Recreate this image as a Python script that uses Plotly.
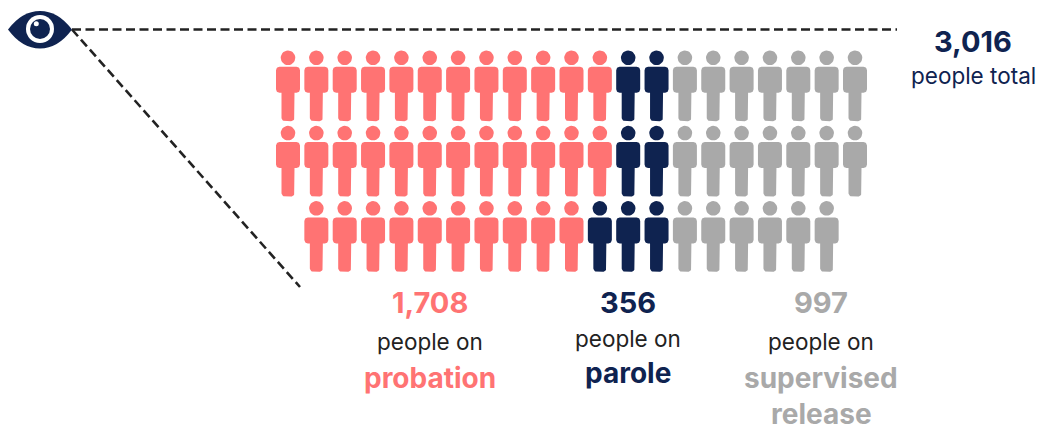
import math
import plotly.graph_objects as go

# Each icon stands for about 50 people; rows are filled left to right.
categories = ["probation", "parole", "supervised release"]
people = [1708, 356, 997]
total_people = 3016
icons_per_row = {
    "probation": [12, 12, 10],
    "parole": [2, 2, 3],
    "supervised release": [7, 7, 6],
}
row_offsets = [0, 0, 1]
colors = {"probation": "#FF7373", "parole": "#0F2350", "supervised release": "#A9A9A9"}
INK = "#222222"

# Icon grid, in axis units (the axes run 1:1 with the canvas)
COL0, COL_STEP = 288.0, 28.35
ROW0, ROW_STEP = 57.8, 75.3


def arc(cx, cy, r, a0, a1, n=7):
    return [(cx + r * math.cos(math.radians(a0 + (a1 - a0) * i / n)),
             cy + r * math.sin(math.radians(a0 + (a1 - a0) * i / n))) for i in range(n + 1)]


def person(cx, cy):
    """Outline points of one figure: round head, rounded torso, single leg block."""
    head = arc(cx, cy, 7.3, 0, 360, 28)
    top, torso_bot, leg_bot = cy + 9, cy + 35, cy + 63.4
    sw, lw, r, lr = 12.0, 6.5, 3.5, 3.5
    body = []
    body += arc(cx + sw - r, top + r, r, -90, 0)
    body += arc(cx + sw - r, torso_bot - r, r, 0, 90)
    body += [(cx + lw, torso_bot)]
    body += arc(cx + lw - lr, leg_bot - lr, lr, 0, 90)
    body += arc(cx - lw + lr, leg_bot - lr, lr, 90, 180)
    body += [(cx - lw, torso_bot)]
    body += arc(cx - sw + r, torso_bot - r, r, 90, 180)
    body += arc(cx - sw + r, top + r, r, 180, 270)
    body += [body[0]]
    return head, body


fig = go.Figure()

for row in range(3):
    col = row_offsets[row]
    for name in categories:
        xs, ys = [], []
        for _ in range(icons_per_row[name][row]):
            for part in person(COL0 + col * COL_STEP, ROW0 + row * ROW_STEP):
                xs += [p[0] for p in part] + [None]
                ys += [p[1] for p in part] + [None]
            col += 1
        fig.add_trace(go.Scatter(x=xs, y=ys, mode="lines", fill="toself",
                                 fillcolor=colors[name], line=dict(width=0),
                                 hoverinfo="skip", showlegend=False))

# Sight lines leaving the eye
for end in [(897, 29.5), (300, 287)]:
    fig.add_trace(go.Scatter(x=[72, end[0]], y=[29.5, end[1]], mode="lines",
                             line=dict(color=INK, width=2.6, dash="9px,4.5px"),
                             hoverinfo="skip", showlegend=False))

# Eye icon
navy = colors["parole"]
fig.add_shape(type="path", xref="x", yref="y", line_width=0, fillcolor=navy, layer="above",
              path="M 8 29.5 Q 22 11 40 11 Q 58 11 72 29.5 Q 58 48.5 40 48.5 Q 22 48.5 8 29.5 Z")
for r, col_ in [(14, "white"), (10, navy)]:
    fig.add_shape(type="circle", xref="x", yref="y", x0=40 - r, x1=40 + r, y0=29 - r, y1=29 + r,
                  line_width=0, fillcolor=col_, layer="above")
fig.add_shape(type="circle", xref="x", yref="y", x0=33.8, x1=38.8, y0=21.2, y1=26.2,
              line_width=0, fillcolor="white", layer="above")


def label(x, y, text, size, color, weight=400):
    fig.add_annotation(x=x, y=y, text=text, showarrow=False, xanchor="center", yanchor="middle",
                       font=dict(family="Inter, Roboto, sans-serif", size=size, color=color, weight=weight))


NUMBER = 29
WORD = 28
BODY = 22.5

label(973, 41, f"{total_people:,}", NUMBER, navy, 700)
label(973, 75, "people total", BODY, navy)

label(430, 302, f"{people[0]:,}", NUMBER, colors["probation"], 700)
label(430, 341, "people on", BODY, INK)
label(430, 378, "probation", WORD, colors["probation"], 700)

label(628, 302, f"{people[1]:,}", NUMBER, navy, 700)
label(628, 338, "people on", BODY, INK)
label(628, 373, "parole", WORD, navy, 700)

label(821, 302, f"{people[2]:,}", NUMBER, colors["supervised release"], 700)
label(821, 341, "people on", BODY, INK)
label(821, 378, "supervised", WORD, colors["supervised release"], 700)
label(821, 414, "release", WORD, colors["supervised release"], 700)

fig.update_layout(
    width=1039, height=425, margin=dict(l=0, r=0, t=0, b=0),
    paper_bgcolor="white", plot_bgcolor="white",
    xaxis=dict(range=[0, 1039], visible=False, fixedrange=True),
    yaxis=dict(range=[425, 0], visible=False, fixedrange=True),
)

fig.write_html("out.html", config={"displayModeBar": False})
